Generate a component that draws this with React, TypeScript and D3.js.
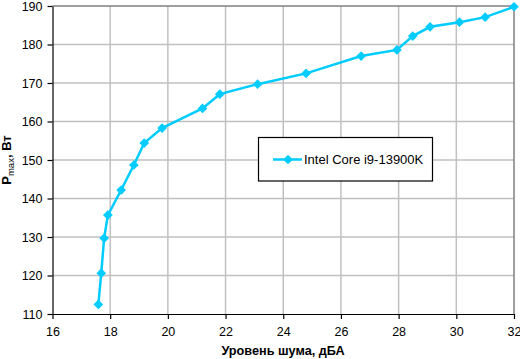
import { useEffect, useRef } from "react";
import * as d3 from "d3";

const noise = [17.59, 17.69, 17.79, 17.92, 18.38, 18.82, 19.18, 19.8, 21.2, 21.8, 23.11, 24.79, 26.7, 27.94, 28.49, 29.09, 30.11, 31.0, 32.0];
const power = [112.5, 120.6, 129.7, 135.7, 142.2, 148.7, 154.4, 158.3, 163.4, 167.1, 169.7, 172.5, 177.0, 178.6, 182.2, 184.6, 185.8, 187.1, 189.8];
const seriesName = "Intel Core i9-13900K";
const xTicks = [16, 18, 20, 22, 24, 26, 28, 30, 32];
const yTicks = [110, 120, 130, 140, 150, 160, 170, 180, 190];

const COLOR = "#00ccff";
const FONT = "'Liberation Sans', Arial, sans-serif";

export default function App() {
  const svgRef = useRef<SVGSVGElement>(null);

  useEffect(() => {
    if (!svgRef.current) return;
    const svg = d3.select(svgRef.current);
    svg.selectAll("*").remove();

    const left = 52.5, right = 514, top = 6, bottom = 314;
    const x = d3.scaleLinear().domain([16, 32]).range([left, right]);
    const y = d3.scaleLinear().domain([110, 190]).range([bottom, top]);

    // grid
    svg.append("g").selectAll("line")
      .data(xTicks.slice(1, -1))
      .enter().append("line")
      .attr("x1", d => x(d)).attr("x2", d => x(d))
      .attr("y1", top).attr("y2", bottom)
      .attr("stroke", "#c0c0c0").attr("stroke-width", 1.5);
    svg.append("g").selectAll("line")
      .data(yTicks.slice(1, -1))
      .enter().append("line")
      .attr("y1", d => y(d)).attr("y2", d => y(d))
      .attr("x1", left).attr("x2", right)
      .attr("stroke", "#c0c0c0").attr("stroke-width", 1.5);

    // top / right border
    svg.append("path")
      .attr("d", `M${left},${top}H${right}V${bottom}`)
      .attr("fill", "none").attr("stroke", "#808080").attr("stroke-width", 1.5);

    const xAxis = d3.axisBottom(x).tickValues(xTicks).tickSize(5).tickSizeOuter(0).tickPadding(8);
    const yAxis = d3.axisLeft(y).tickValues(yTicks).tickSize(5).tickSizeOuter(0).tickPadding(5);

    const gx = svg.append("g").attr("transform", `translate(0,${bottom})`).call(xAxis);
    const gy = svg.append("g").attr("transform", `translate(${left},0)`).call(yAxis);
    [gx, gy].forEach(g => {
      g.selectAll("path, line").attr("stroke", "#000").attr("stroke-width", 1.2);
      g.selectAll("text").attr("fill", "#000").attr("font-size", 12.5).attr("font-family", FONT);
    });

    const pts = noise.map((n, i) => [n, power[i]] as [number, number]);
    const line = d3.line<[number, number]>().x(d => x(d[0])).y(d => y(d[1]));
    svg.append("path").attr("d", line(pts)).attr("fill", "none")
      .attr("stroke", COLOR).attr("stroke-width", 2.5);

    const diamond = d3.symbol().type(d3.symbolDiamond2).size(60);
    svg.selectAll("path.mk").data(pts).enter().append("path")
      .attr("class", "mk")
      .attr("d", diamond())
      .attr("transform", d => `translate(${x(d[0])},${y(d[1])})`)
      .attr("fill", COLOR);

    // legend
    const lg = svg.append("g");
    lg.append("rect").attr("x", 258.5).attr("y", 137.5).attr("width", 174).attr("height", 43.5)
      .attr("fill", "#fff").attr("stroke", "#000").attr("stroke-width", 1.2);
    lg.append("line").attr("x1", 273).attr("x2", 302).attr("y1", 159.5).attr("y2", 159.5)
      .attr("stroke", COLOR).attr("stroke-width", 2.5);
    lg.append("path").attr("d", diamond()).attr("transform", "translate(288,159.5)").attr("fill", COLOR);
    lg.append("text").attr("x", 304).attr("y", 164).text(seriesName)
      .attr("font-size", 13).attr("font-family", FONT).attr("fill", "#000");

    // axis titles
    svg.append("text").attr("x", 283).attr("y", 355).attr("text-anchor", "middle")
      .attr("font-size", 12.7).attr("font-weight", "bold").attr("font-family", FONT)
      .text("Уровень шума, дБА");

    const yt = svg.append("text")
      .attr("transform", "translate(11,160) rotate(-90)")
      .attr("text-anchor", "middle")
      .attr("font-size", 13).attr("font-weight", "bold").attr("font-family", FONT);
    yt.append("tspan").text("P");
    yt.append("tspan").attr("font-size", 9.5).attr("font-weight", "normal").attr("dy", 3).text("max");
    yt.append("tspan").attr("dy", -3).text(", Вт");
  }, []);

  return (
    <svg ref={svgRef} width={520} height={359}
      style={{ position: "absolute", left: 0, top: 0, background: "#fff" }} />
  );
}
